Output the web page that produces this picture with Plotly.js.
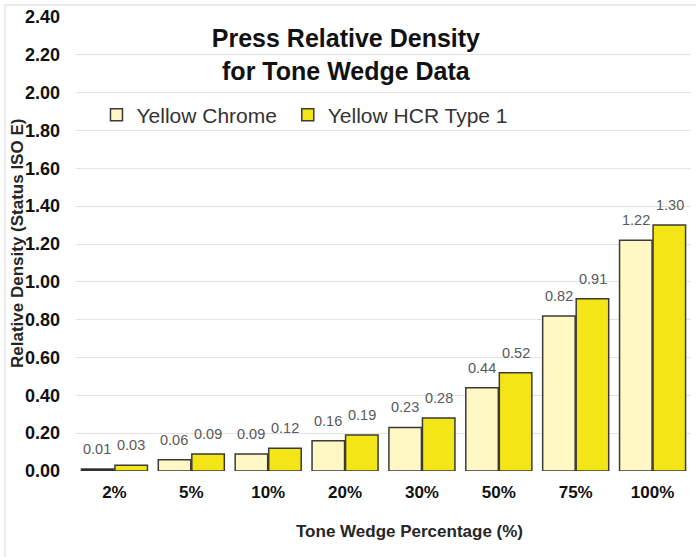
<!DOCTYPE html>
<html>
<head>
<meta charset="utf-8">
<script src="https://cdn.plot.ly/plotly-3.0.1.min.js"></script>
<style>
html,body{margin:0;padding:0;background:#fff;}
#chart{width:696px;height:557px;}
</style>
</head>
<body>
<div id="chart"></div>
<script>
const categories = ['2%','5%','10%','20%','30%','50%','75%','100%'];
const chromeValues = [0.01,0.06,0.09,0.16,0.23,0.44,0.82,1.22];
const hcrValues = [0.03,0.09,0.12,0.19,0.28,0.52,0.91,1.30];
const seriesNames = ['Yellow Chrome','Yellow HCR Type 1'];

const chromeFill = '#FFF7C4';
const hcrFill = '#F4E516';
const chromeColors = chromeValues.map((v,i)=> i===0 ? '#111111' : chromeFill);

const font = 'Liberation Sans, Arial, sans-serif';

const traces = [
  {type:'bar', name:seriesNames[0], x:categories, y:chromeValues, showlegend:false,
   marker:{color:chromeColors, line:{color:'#3a3a3a', width:1.5}}, hoverinfo:'skip'},
  {type:'bar', name:seriesNames[1], x:categories, y:hcrValues, legendrank:2,
   marker:{color:hcrFill, line:{color:'#3a3a3a', width:1.5}}, hoverinfo:'skip'},
  // legend entry for the first series (its first bar is drawn dark in the chart);
  // lives on hidden axes whose range keeps it out of view
  {type:'bar', name:seriesNames[0] + '\u00a0', x:[0], y:[0], xaxis:'x2', yaxis:'y2', legendrank:1,
   marker:{color:chromeFill, line:{color:'#3a3a3a', width:1.5}}, hoverinfo:'skip'}
];

const labelFont = {family:font, size:14.5, color:'#595959'};
const annotations = [];
categories.forEach((c,i)=>{
  annotations.push({x:c, y:chromeValues[i], xref:'x', yref:'y', text:chromeValues[i].toFixed(2),
    showarrow:false, xshift:-17, yanchor:'bottom', yshift:10, font:labelFont});
  annotations.push({x:c, y:hcrValues[i], xref:'x', yref:'y', text:hcrValues[i].toFixed(2),
    showarrow:false, xshift:17, yanchor:'bottom', yshift:10, font:labelFont});
});
annotations.push({text:'<b>Tone Wedge Percentage (%)</b>', xref:'paper', yref:'paper',
  x:(409-76)/615, y:(471-531)/454, xanchor:'center', yanchor:'middle', showarrow:false,
  font:{family:font, size:17, color:'#262626'}});
annotations.push({text:'<b>Relative Density (Status ISO E)</b>', xref:'paper', yref:'paper',
  x:(17-76)/615, y:0.5, xanchor:'center', yanchor:'middle', textangle:-90, showarrow:false,
  font:{family:font, size:17, color:'#262626'}});

const layout = {
  width:696, height:557,
  margin:{l:76, r:5, t:17, b:86},
  paper_bgcolor:'#ffffff', plot_bgcolor:'#ffffff',
  font:{family:font, color:'#262626'},
  barmode:'group', bargap:0.128, bargroupgap:0.03,
  showlegend:true,
  legend:{orientation:'h', x:0.0333, xanchor:'left', y:0.784, yanchor:'middle',
    font:{family:font, size:21, color:'#333333'}, traceorder:'normal',
    bgcolor:'rgba(0,0,0,0)'},
  title:{text:'<b>Press Relative Density<br>for Tone Wedge Data</b>', x:0.497, xref:'container',
    y:1-47/557, yref:'container', xanchor:'center', yanchor:'middle',
    font:{family:font, size:25, color:'#111111'}},
  xaxis:{type:'category', showgrid:false, zeroline:false, showline:false, ticks:'',
    tickfont:{family:font, size:17, color:'#111111', weight:'bold'}, ticklabelstandoff:9},
  yaxis:{range:[0,2.4], dtick:0.2, tickformat:'.2f', showgrid:true, gridcolor:'#e3e3e3', gridwidth:1,
    zeroline:false, showline:false, ticks:'', ticklabelstandoff:15,
    tickfont:{family:font, size:18, color:'#111111', weight:'bold'}},
  xaxis2:{visible:false, overlaying:'x', range:[5,6]},
  yaxis2:{visible:false, overlaying:'y', range:[10,11]},
  annotations:annotations,
  shapes:[{type:'rect', xref:'paper', yref:'paper', x0:-71/615, x1:1+20/615, y0:-120/454, y1:1+12/454,
    line:{color:'#d9d9d9', width:1}, fillcolor:'rgba(0,0,0,0)', layer:'below'}]
};

Plotly.newPlot('chart', traces, layout, {displayModeBar:false, staticPlot:true});
</script>
</body>
</html>
